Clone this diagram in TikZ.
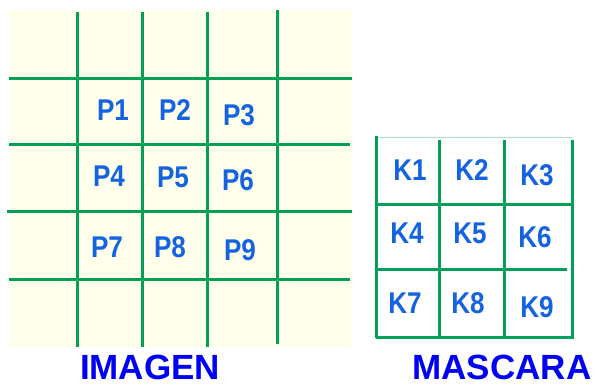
\documentclass[tikz,border=0pt]{standalone}
\usepackage{fontspec}
\setmainfont{Liberation Sans}
\definecolor{gridgreen}{RGB}{0,160,90}
\definecolor{paleyellow}{RGB}{255,255,236}
\definecolor{lblblue}{RGB}{20,100,225}
\definecolor{titleblue}{RGB}{0,0,245}
\definecolor{faintgreen}{RGB}{170,225,200}
\begin{document}
\begin{tikzpicture}[x=1pt,y=-1pt,
  gline/.style={draw=gridgreen,line width=3pt},
  cell/.style={font=\fontsize{30}{30}\selectfont\bfseries,text=lblblue,xscale=0.87,inner sep=0pt},
  title/.style={font=\fontsize{35}{35}\selectfont\bfseries,text=titleblue,inner sep=0pt}]
\useasboundingbox (0,0) rectangle (599,387);
\fill[white] (0,0) rectangle (599,387);
% IMAGEN background
\fill[paleyellow] (9,10) rectangle (352,347);
% vertical lines
\draw[gline] (77,12) -- (77,347);
\draw[gline] (142,12) -- (142,347);
\draw[gline] (207,12) -- (207,347);
\draw[gline] (277,10) -- (277,344);
% horizontal lines
\draw[gline] (9,79) -- (352,79);
\draw[gline] (9,145) -- (350,145);
\draw[gline] (7,212) -- (352,212);
\draw[gline] (9,279) -- (350,279);
% P labels
\node[cell] (p1) at (113,110) {P1};
\node[cell] (p2) at (175,110) {P2};
\node[cell] (p3) at (239,115) {P3};
\node[cell] (p4) at (109,176) {P4};
\node[cell] (p5) at (173,177) {P5};
\node[cell] (p6) at (238,180) {P6};
\node[cell] (p7) at (107,247) {P7};
\node[cell] (p8) at (170,247) {P8};
\node[cell] (p9) at (240,250) {P9};
\node[title] (imagen) at (150,367) {IMAGEN};
% MASCARA grid
\draw[draw=faintgreen,line width=1pt] (378,138) -- (572,138);
\draw[gline] (376,136) -- (376,338);
\draw[gline] (439,140) -- (439,337);
\draw[gline] (504,140) -- (504,337);
\draw[gline] (572,140) -- (572,339);
\draw[gline] (376,205) -- (572,205);
\draw[gline] (376,269) -- (567,269);
\draw[gline] (376,337) -- (571,337);
\node[cell] (k1) at (410,170) {K1};
\node[cell] (k2) at (472,170) {K2};
\node[cell] (k3) at (537,175) {K3};
\node[cell] (k4) at (407,233) {K4};
\node[cell] (k5) at (470,233) {K5};
\node[cell] (k6) at (535,237) {K6};
\node[cell] (k7) at (405,303) {K7};
\node[cell] (k8) at (468,303) {K8};
\node[cell] (k9) at (537,307) {K9};
\node[title] (mascara) at (502,367) {MASCARA};
\end{tikzpicture}
\end{document}
